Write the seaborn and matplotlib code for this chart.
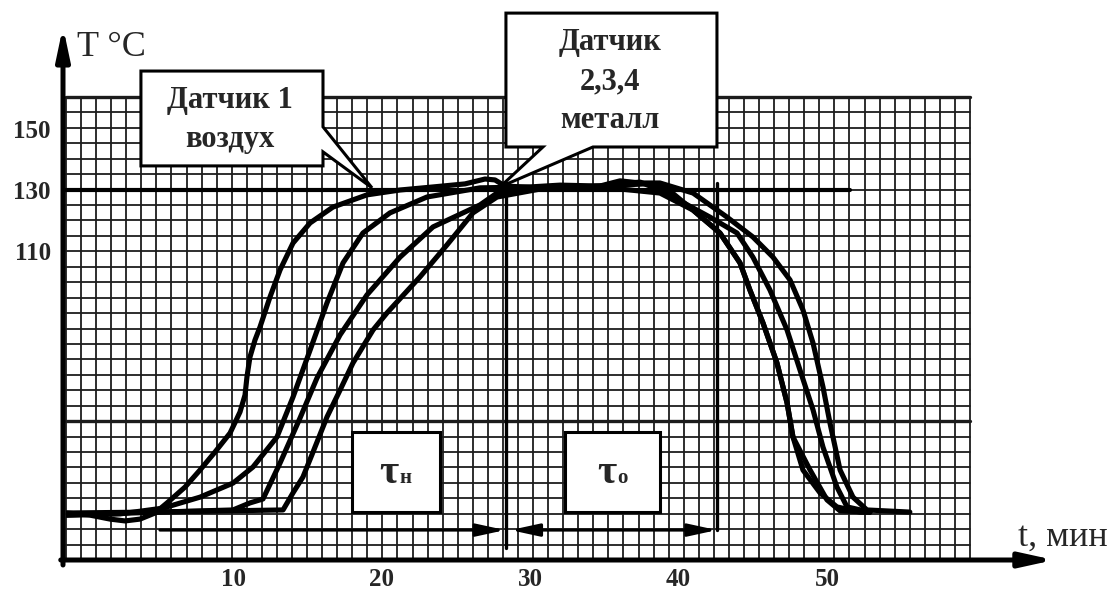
import numpy as np
import pandas as pd
import matplotlib
matplotlib.use("Agg")
import matplotlib.pyplot as plt
import seaborn as sns
from matplotlib.patches import Rectangle, Polygon

# ---------------- data (t in minutes, T in °C) ----------------
t_air = [-1.18, 0.37, 1.72, 2.73, 3.74, 4.75, 5.56, 6.77, 7.78, 8.79, 9.80, 10.47, 10.81, 10.94,
         11.14, 11.48, 11.82, 12.49, 13.17, 14.04, 15.19, 16.73, 19.02, 21.25, 23.47, 25.62,
         26.97, 27.64, 28.32, 30.67, 33.37, 36.06, 37.75, 39.09, 40.98, 42.79, 44.14, 44.81,
         45.69, 46.63, 47.31, 47.71, 48.38, 49.53, 50.67, 52.22, 52.89]
T_air = [24.1, 23.4, 22.1, 21.5, 22.1, 24.1, 27.4, 32.6, 38.2, 44.1, 50.3, 57.2, 62.8, 68.7,
         75.2, 80.8, 85.1, 94.9, 103.8, 112.6, 119.2, 124.4, 128.4, 130.0, 131.0, 132.0,
         133.6, 133.3, 131.3, 130.7, 131.0, 131.6, 132.0, 131.0, 123.4, 115.9, 106.1, 97.2,
         86.4, 73.3, 60.2, 49.0, 38.2, 30.7, 26.1, 24.4, 24.4]

t_s2 = [-1.18, 2.39, 5.29, 7.78, 10.0, 11.35, 12.96, 14.04, 15.19, 16.33, 17.41, 18.75, 20.57,
        23.06, 26.63, 30.0, 32.02, 34.71, 37.41, 38.75, 42.12, 43.94, 45.01, 46.16, 47.31,
        48.18, 49.06, 49.73, 50.67, 51.35, 52.89]
T_s2 = [23.4, 23.8, 25.7, 29.3, 33.9, 39.2, 49.0, 62.1, 77.5, 93.0, 106.1, 115.9, 122.5,
        127.7, 130.7, 131.0, 131.6, 131.3, 132.6, 130.0, 121.1, 115.9, 108.0, 97.2, 84.1,
        71.0, 57.9, 45.7, 32.6, 26.1, 24.4]

t_s3 = [-1.18, 5.08, 10.0, 11.14, 12.02, 13.17, 14.51, 15.66, 17.21, 19.02, 21.25, 23.47,
        26.63, 27.78, 30.0, 34.71, 38.75, 40.98, 42.79, 44.14, 44.81, 45.69, 46.63, 47.31,
        47.71, 48.86, 50.0, 50.88, 52.89]
T_s3 = [23.4, 24.4, 25.1, 27.4, 28.7, 40.5, 55.2, 68.4, 82.5, 95.6, 108.0, 117.9,
        125.1, 129.0, 130.3, 131.0, 129.0, 123.4, 115.9, 106.1, 97.2, 86.4, 73.3, 60.2,
        49.0, 38.2, 28.4, 24.8, 24.4]

t_s4 = [-1.18, 4.41, 13.37, 14.04, 14.71, 15.39, 16.33, 17.21, 18.08, 19.43, 20.37, 22.59,
        24.41, 26.16, 27.78, 30.67, 34.71, 36.06, 37.41, 38.75, 40.98, 43.27, 45.01, 46.36,
        47.51, 48.38, 49.06, 49.73, 50.2, 50.88, 51.75, 52.69, 55.58]
T_s4 = [24.1, 24.4, 25.1, 30.7, 35.9, 44.1, 55.6, 64.4, 73.3, 84.1, 89.7, 101.5,
        112.0, 122.5, 127.7, 130.3, 131.3, 133.0, 132.3, 132.3, 129.0, 121.1, 114.6, 108.0,
        100.5, 90.7, 79.8, 65.4, 53.6, 38.2, 29.3, 25.1, 24.4]

x_ticks = [10, 20, 30, 40, 50]
y_ticks = [110, 130, 150]
x_label = "t, мин"
y_label = "T °C"
callout_air = "Датчик 1\nвоздух"
callout_metal = "Датчик\n2,3,4\nметалл"
level_T = 130          # set-point line
t_heat_end = 28.38     # end of heating interval
t_hold_end = 42.59     # end of holding interval
tau_h = ("τ", "н")
tau_o = ("τ", "о")

# ---------------- style ----------------
sns.set_style("white")
plt.rcParams["font.family"] = ["Liberation Serif", "DejaVu Serif"]

W, H = 1119, 590
fig = plt.figure(figsize=(W / 100, H / 100), dpi=100)
ax = fig.add_axes([66 / W, 30 / H, 904 / W, 463 / H])
x0, x1 = -1.246, 59.63
y0, y1 = 8.69, 160.49
ax.set_xlim(x0, x1)
ax.set_ylim(y0, y1)
for s in ax.spines.values():
    s.set_visible(False)

# graph-paper grid
for xv in np.linspace(x0, x1, 61):
    ax.axvline(xv, color="#1c1c1c", lw=1.3, zorder=1, clip_on=False)
for k, yv in enumerate(np.linspace(y0, y1, 31)):
    ax.axhline(yv, color="#1c1c1c", lw=2.4 if k in (9, 30) else 1.3, zorder=1, clip_on=False)

# curves
frames = []
for name, tt, TT in [("air", t_air, T_air), ("s2", t_s2, T_s2),
                     ("s3", t_s3, T_s3), ("s4", t_s4, T_s4)]:
    frames.append(pd.DataFrame({"t": tt, "T": TT, "sensor": name}))
df = pd.concat(frames, ignore_index=True)
sns.lineplot(data=df, x="t", y="T", units="sensor", estimator=None, sort=False,
             color="black", lw=3.7, ax=ax, zorder=3,
             solid_joinstyle="round", solid_capstyle="round")
ax.set_xlabel("")
ax.set_ylabel("")

# set-point line and interval markers
ax.plot([x0, 51.55], [level_T, level_T], color="black", lw=3.0, zorder=2, clip_on=False)
ax.plot([t_heat_end, t_heat_end], [12.5, 130.7], color="black", lw=2.4, zorder=2)
ax.plot([t_hold_end, t_hold_end], [18.5, 132.3], color="black", lw=2.4, zorder=2)

arr_T = 18.5
ax.annotate("", xy=(t_heat_end - 0.05, arr_T), xytext=(5.08, arr_T),
            arrowprops=dict(arrowstyle="-|>,head_length=1.15,head_width=0.25", lw=2.2,
                            color="black", shrinkA=0, shrinkB=0, mutation_scale=15), zorder=4)
ax.annotate("", xy=(t_hold_end, arr_T), xytext=(t_heat_end + 0.3, arr_T),
            arrowprops=dict(arrowstyle="<|-|>,head_length=1.15,head_width=0.25", lw=2.2,
                            color="black", shrinkA=0, shrinkB=0, mutation_scale=15), zorder=4)

# tau boxes
for (bx0, bx1, tx), (g, sub) in [((18.01, 23.94, 21.15), tau_h), ((32.36, 38.75, 35.80), tau_o)]:
    ax.add_patch(Rectangle((bx0, 24.43), bx1 - bx0, 50.66 - 24.43, facecolor="white",
                           edgecolor="black", lw=2.2, zorder=4))
    ax.text(tx, 34.0, g, ha="right", va="baseline", fontsize=30, fontweight="bold", zorder=5)
    ax.text(tx + 0.05, 34.0, sub, ha="left", va="baseline", fontsize=15, fontweight="bold", zorder=5)

# callouts
poly1 = [(3.80, 169.0), (16.06, 169.0), (16.06, 150.7), (19.36, 130.7), (16.06, 142.5),
         (16.06, 137.9), (3.80, 137.9)]
poly2 = [(28.38, 188.0), (42.59, 188.0), (42.59, 144.1), (34.24, 144.1), (27.98, 131.0),
         (30.87, 144.1), (28.38, 144.1)]
for pts in (poly1, poly2):
    ax.add_patch(Polygon(pts, closed=True, facecolor="white", edgecolor="black", lw=2.2,
                         joinstyle="miter", zorder=6, clip_on=False))
ax.text(9.80, 152.9, callout_air, ha="center", va="center", fontsize=22, fontweight="bold",
        linespacing=1.47, zorder=7, clip_on=False)
ax.text(35.39, 165.6, callout_metal, ha="center", va="center", fontsize=22, fontweight="bold",
        linespacing=1.45, zorder=7, clip_on=False)

# axis arrows
ax.annotate("", xy=(-1.448, 183.6), xytext=(-1.448, 7.05), annotation_clip=False,
            arrowprops=dict(arrowstyle="-|>,head_length=0.95,head_width=0.2", lw=3.6,
                            color="black", shrinkA=0, shrinkB=0, mutation_scale=20), zorder=8)
ax.annotate("", xy=(65.3, y0), xytext=(-1.6, y0), annotation_clip=False,
            arrowprops=dict(arrowstyle="-|>,head_length=1.0,head_width=0.22", lw=3.6,
                            color="black", shrinkA=0, shrinkB=0, mutation_scale=20), zorder=8)

# ticks
ax.set_xticks(x_ticks)
ax.set_xticklabels([str(v) for v in x_ticks], fontsize=18, fontweight="bold")
ax.set_yticks(y_ticks)
ax.set_yticklabels([str(v) for v in y_ticks], fontsize=18, fontweight="bold")
ax.tick_params(axis="x", length=0, pad=6)
ax.tick_params(axis="y", length=0, pad=11)

fig.text(77 / W, 1 - 47 / H, y_label, fontsize=26, ha="left", va="center")
fig.text(1018 / W, 1 - 537 / H, x_label, fontsize=26, ha="left", va="center")

fig.savefig("out.png", dpi=100, facecolor="white")
